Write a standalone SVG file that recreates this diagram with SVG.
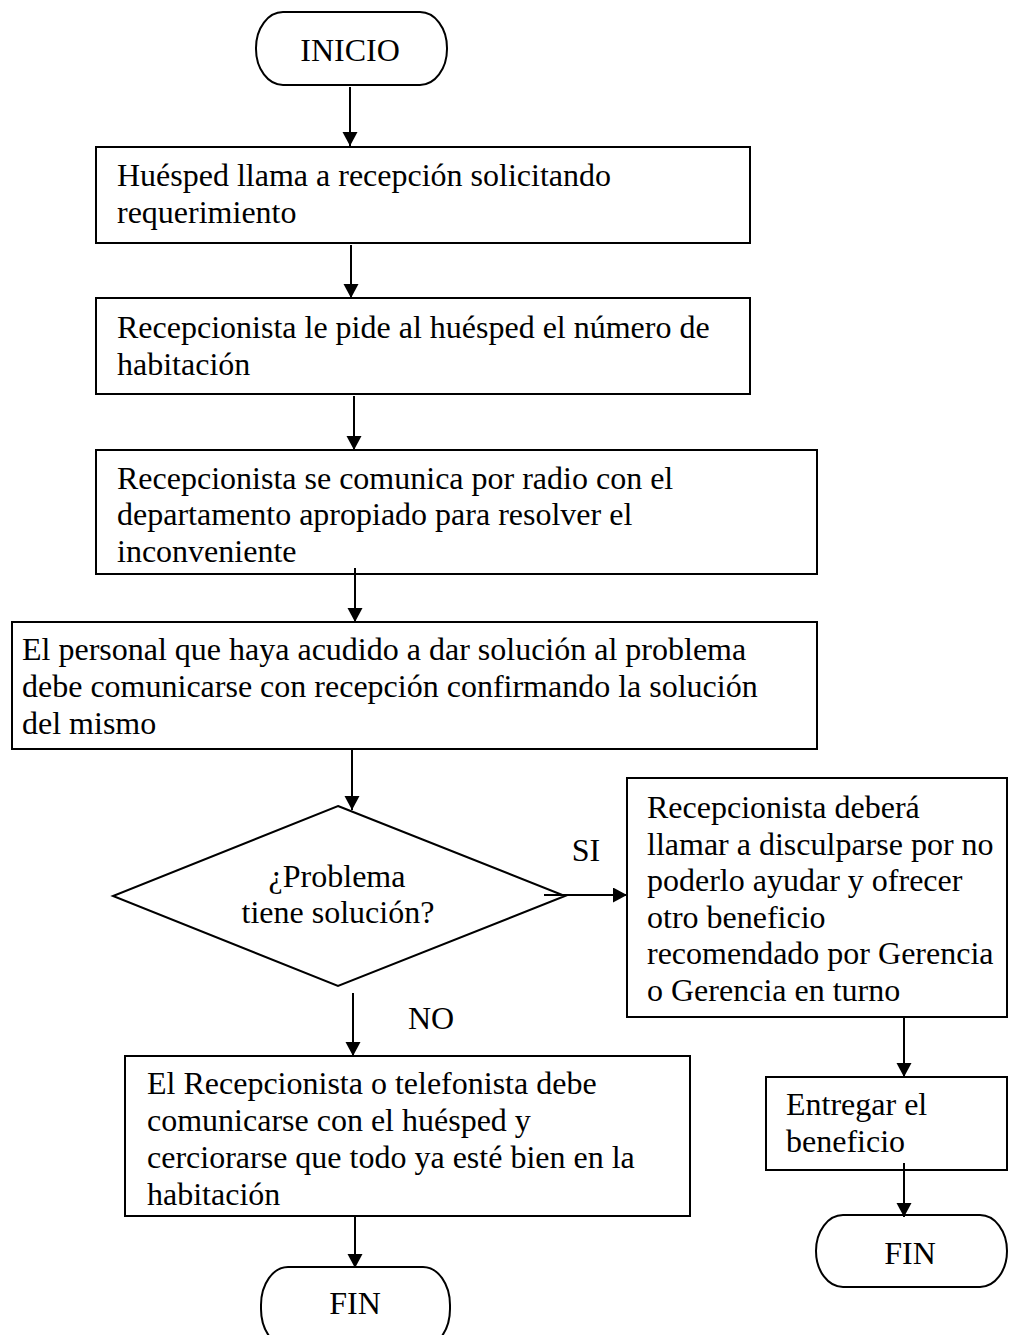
<svg xmlns="http://www.w3.org/2000/svg" width="1009" height="1335" viewBox="0 0 1009 1335">
<style>
.shape{fill:#fff;stroke:#000;stroke-width:2}
.edge{stroke:#000;stroke-width:2;fill:none}
text{font-family:"Liberation Serif","Times New Roman",serif;font-size:32px;fill:#000}
</style>
<defs>
<marker id="ah" markerUnits="userSpaceOnUse" markerWidth="15" markerHeight="16" refX="14" refY="7.5" orient="auto">
<path d="M0,0 L14,7.5 L0,15 z" fill="#000"/>
</marker>
</defs>
<rect width="1009" height="1335" fill="#fff"/>
<g id="inicio">
<rect class="shape" x="256" y="12" width="191" height="73" rx="27" ry="36"/>
<text x="350" y="61" text-anchor="middle">INICIO</text>
</g>
<g id="n1">
<rect class="shape" x="96" y="147" width="654" height="96"/>
<text x="117" y="186">Huésped llama a recepción solicitando</text>
<text x="117" y="223">requerimiento</text>
</g>
<g id="n2">
<rect class="shape" x="96" y="298" width="654" height="96"/>
<text x="117" y="338">Recepcionista le pide al huésped el número de</text>
<text x="117" y="375">habitación</text>
</g>
<g id="n3">
<rect class="shape" x="96" y="450" width="721" height="124"/>
<text x="117" y="489">Recepcionista se comunica por radio con el</text>
<text x="117" y="525">departamento apropiado para resolver el</text>
<text x="117" y="562">inconveniente</text>
</g>
<g id="n4">
<rect class="shape" x="12" y="622" width="805" height="127"/>
<text x="22" y="660">El personal que haya acudido a dar solución al problema</text>
<text x="22" y="697">debe comunicarse con recepción confirmando la solución</text>
<text x="22" y="734">del mismo</text>
</g>
<g id="decision">
<polygon class="shape" points="338,806 565,896 338,986 113,896"/>
<text x="337" y="887" text-anchor="middle">¿Problema</text>
<text x="338" y="923" text-anchor="middle">tiene solución?</text>
</g>
<g id="si-box">
<rect class="shape" x="627" y="778" width="380" height="239"/>
<text x="647" y="818">Recepcionista deberá</text>
<text x="647" y="854.5">llamar a disculparse por no</text>
<text x="647" y="891">poderlo ayudar y ofrecer</text>
<text x="647" y="927.5">otro beneficio</text>
<text x="647" y="964">recomendado por Gerencia</text>
<text x="647" y="1000.5">o Gerencia en turno</text>
</g>
<g id="no-box">
<rect class="shape" x="125" y="1056" width="565" height="160"/>
<text x="147" y="1094">El Recepcionista o telefonista debe</text>
<text x="147" y="1131">comunicarse con el huésped y</text>
<text x="147" y="1168">cerciorarse que todo ya esté bien en la</text>
<text x="147" y="1205">habitación</text>
</g>
<g id="entregar">
<rect class="shape" x="766" y="1077" width="241" height="93"/>
<text x="786" y="1115">Entregar el</text>
<text x="786" y="1152">beneficio</text>
</g>
<g id="fin1">
<rect class="shape" x="261" y="1267" width="189" height="80" rx="27" ry="38"/>
<text x="355" y="1314" text-anchor="middle">FIN</text>
</g>
<g id="fin2">
<rect class="shape" x="816" y="1215" width="191" height="72" rx="27" ry="36"/>
<text x="910" y="1264" text-anchor="middle">FIN</text>
</g>
<g id="labels">
<text x="586" y="861" text-anchor="middle">SI</text>
<text x="431" y="1029" text-anchor="middle">NO</text>
</g>
<g id="connectors">
<line class="edge" x1="350" y1="87" x2="350" y2="146" marker-end="url(#ah)"/>
<line class="edge" x1="351" y1="245" x2="351" y2="298" marker-end="url(#ah)"/>
<line class="edge" x1="354" y1="396" x2="354" y2="450" marker-end="url(#ah)"/>
<line class="edge" x1="355" y1="568" x2="355" y2="622" marker-end="url(#ah)"/>
<line class="edge" x1="352" y1="749" x2="352" y2="810" marker-end="url(#ah)"/>
<line class="edge" x1="544" y1="895" x2="627" y2="895" marker-end="url(#ah)"/>
<line class="edge" x1="353" y1="993" x2="353" y2="1056" marker-end="url(#ah)"/>
<line class="edge" x1="355" y1="1216" x2="355" y2="1268" marker-end="url(#ah)"/>
<line class="edge" x1="904" y1="1017" x2="904" y2="1077" marker-end="url(#ah)"/>
<line class="edge" x1="904" y1="1163" x2="904" y2="1217" marker-end="url(#ah)"/>
</g>
</svg>
